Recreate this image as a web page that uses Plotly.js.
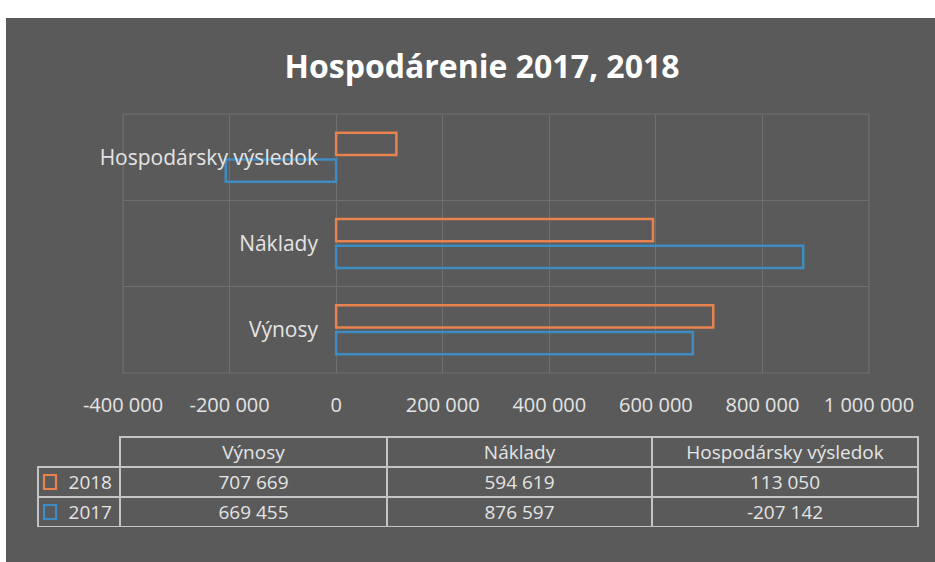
<!DOCTYPE html>
<html>
<head>
<meta charset="utf-8">
<script src="https://cdn.plot.ly/plotly-3.0.1.min.js"></script>
<style>html,body{margin:0;padding:0;background:#fff;}#chart{width:935px;height:562px;}</style>
</head>
<body>
<div id="chart"></div>
<script>
// ---- data ----
var categories = ["Výnosy", "Náklady", "Hospodársky výsledok"];
var seriesNames = ["2017", "2018"];
var values2017 = [669455, 876597, -207142];
var values2018 = [707669, 594619, 113050];
var xTickVals = [-400000, -200000, 0, 200000, 400000, 600000, 800000, 1000000];
var xTickLabels = ["-400 000", "-200 000", "0", "200 000", "400 000", "600 000", "800 000", "1 000 000"];
var chartTitle = "Hospodárenie 2017, 2018";

// ---- styling ----
var W = 935, H = 562;
var col2017 = "#3d8cc4";
var col2018 = "#e8824f";
var txt = "#e4e4e4";
var grid = "#6f6f6f";
var FONT = "Open Sans, sans-serif";

function px(x){ return x / W; }
function py(y){ return 1 - y / H; }
function fmt(n){
  var s = Math.abs(n).toString().replace(/\B(?=(\d{3})+(?!\d))/g, " ");
  return (n < 0 ? "-" : "") + s;
}

var bar2017 = {
  type: "bar", orientation: "h", name: seriesNames[0],
  y: categories, x: values2017,
  marker: {color: "rgba(0,0,0,0)", line: {color: col2017, width: 2.5}},
  xaxis: "x", yaxis: "y", hoverinfo: "skip"
};
var bar2018 = {
  type: "bar", orientation: "h", name: seriesNames[1],
  y: categories, x: values2018,
  marker: {color: "rgba(0,0,0,0)", line: {color: col2018, width: 2.5}},
  xaxis: "x", yaxis: "y", hoverinfo: "skip"
};

// table (rows: 2018 then 2017, columns: label + categories)
var rowSeries = [{name: seriesNames[1], color: col2018, vals: values2018},
                 {name: seriesNames[0], color: col2017, vals: values2017}];
var labelCol = rowSeries.map(function(r){ return r.name; });
var valueCols = categories.map(function(c, i){
  return rowSeries.map(function(r){ return fmt(r.vals[i]); });
});
var lineC = "#c4c4c4";
var tblTop = 437, rowH = 30;
var table = {
  type: "table",
  domain: {x: [px(38), px(918)], y: [py(tblTop + 3 * rowH), py(tblTop)]},
  columnwidth: [82, 267, 265, 266],
  header: {
    values: [""].concat(categories),
    align: ["right", "center", "center", "center"],
    height: rowH,
    fill: {color: "rgba(0,0,0,0)"},
    line: {color: ["rgba(0,0,0,0)", lineC, lineC, lineC], width: 1.2},
    font: {family: FONT, size: 19, color: txt}
  },
  cells: {
    values: [labelCol].concat(valueCols),
    align: ["right", "center", "center", "center"],
    height: rowH,
    fill: {color: "rgba(0,0,0,0)"},
    line: {color: lineC, width: 1.2},
    font: {family: FONT, size: 19, color: txt}
  }
};

// legend keys in the table's label column
var keyShapes = rowSeries.map(function(r, i){
  var yc = tblTop + rowH * (i + 1.5);
  return {type: "rect", xref: "paper", yref: "paper",
    x0: px(44), x1: px(56), y0: py(yc + 7), y1: py(yc - 7),
    fillcolor: "rgba(0,0,0,0)", line: {color: r.color, width: 2.2}};
});

var layout = {
  width: W, height: H,
  margin: {l: 0, r: 0, t: 0, b: 0},
  paper_bgcolor: "#ffffff",
  plot_bgcolor: "rgba(0,0,0,0)",
  showlegend: false,
  hovermode: false,
  barmode: "group",
  bargap: 0.38,
  bargroupgap: 0.17,
  title: {
    text: "<b>" + chartTitle + "</b>",
    font: {family: FONT, size: 32, color: "#ffffff"},
    x: px(482), xanchor: "center", xref: "paper",
    y: py(67), yanchor: "middle", yref: "paper"
  },
  xaxis: {
    domain: [px(123), px(869)],
    range: [-400000, 1000000],
    tickvals: xTickVals, ticktext: xTickLabels,
    showgrid: true, gridcolor: grid, gridwidth: 1.2,
    zeroline: false, showline: false, ticks: "",
    ticklabelstandoff: 18,
    tickfont: {family: FONT, size: 20, color: txt},
    fixedrange: true
  },
  yaxis: {
    domain: [py(373), py(114)],
    type: "category",
    anchor: "free", position: px(335),
    tickson: "boundaries",
    showgrid: true, gridcolor: grid, gridwidth: 1.2,
    zeroline: false, showline: false, ticks: "",
    ticklabelstandoff: 17,
    tickfont: {family: FONT, size: 21, color: txt},
    fixedrange: true
  },
  shapes: [
    {type: "rect", xref: "paper", yref: "paper", layer: "below",
     x0: px(6), x1: px(935), y0: 0, y1: py(18),
     fillcolor: "#5a5a5a", line: {width: 0}},
    {type: "rect", xref: "paper", yref: "paper", layer: "below",
     x0: px(123), x1: px(869), y0: py(373), y1: py(114),
     fillcolor: "rgba(0,0,0,0)", line: {color: grid, width: 1.2}}
  ].concat(keyShapes)
};

Plotly.newPlot("chart", [bar2017, bar2018, table], layout, {displayModeBar: false, staticPlot: true});
</script>
</body>
</html>
